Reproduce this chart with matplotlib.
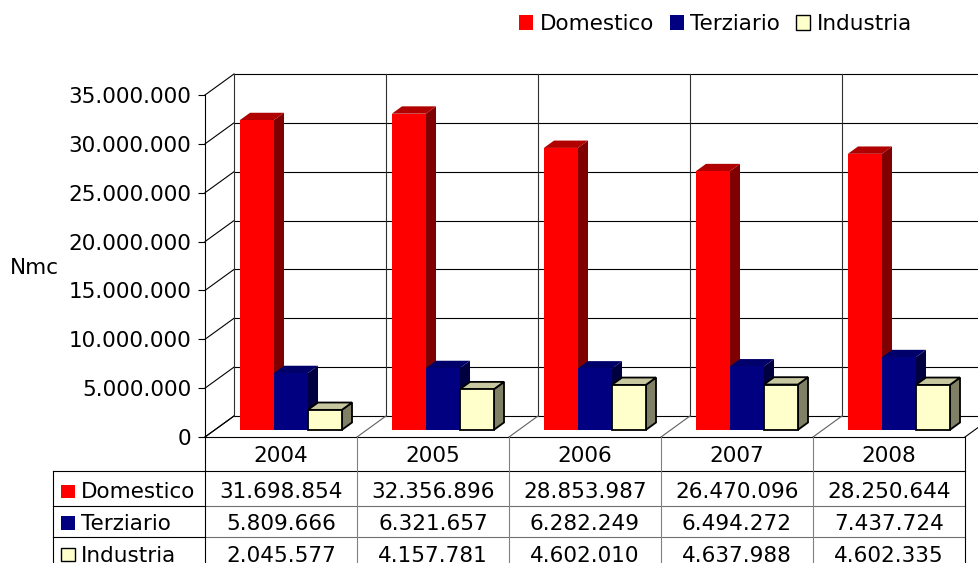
import numpy as np
import matplotlib
matplotlib.use('Agg')
import matplotlib.pyplot as plt
import matplotlib.transforms as mtransforms
from matplotlib.patches import Polygon, Rectangle, Patch
from matplotlib.lines import Line2D

# dati
years = ['2004', '2005', '2006', '2007', '2008']
series = ['Domestico', 'Terziario', 'Industria']
domestico = [31698854, 32356896, 28853987, 26470096, 28250644]
terziario = [5809666, 6321657, 6282249, 6494272, 7437724]
industria = [2045577, 4157781, 4602010, 4637988, 4602335]
values = [domestico, terziario, industria]
y_ticks = np.arange(0, 35000001, 5000000)
y_max = 35000000

front_colors = ['#ff0000', '#000080', '#ffffcc']
top_colors = ['#b00000', '#00006a', '#c8c8a0']
side_colors = ['#7f0000', '#000040', '#808066']
edge_colors = ['none', 'none', 'black']

FS = 15.5
W, H = 979, 563
plt.rcParams['font.family'] = ['DejaVu Sans']


def fmt(v):
    return f'{v:,.0f}'.replace(',', '.')


fig = plt.figure(figsize=(W / 100, H / 100), dpi=100)
ax = fig.add_axes([205 / W, 1 - 437 / H, 760 / W, 342 / H])
ax.set_xlim(0, len(years))
ax.set_ylim(0, y_max)
ax.patch.set_visible(False)
for s in ['top', 'right', 'bottom']:
    ax.spines[s].set_visible(False)
ax.spines['left'].set_linewidth(0.8)
ax.set_xticks([])
ax.set_yticks(y_ticks)
ax.set_yticklabels([fmt(v) for v in y_ticks], fontsize=FS)
ax.tick_params(axis='y', direction='out', length=5, width=0.8, pad=5)

# profondita 3D: converte pixel -> unita dati
p0 = ax.transData.transform((0, 0))
p1 = ax.transData.transform((1, 1e6))
kx = p1[0] - p0[0]
ky = (p1[1] - p0[1]) / 1e6
WALL = (29, 21)


def off(x, y, d):
    return x + d * WALL[0] / kx, y + d * WALL[1] / ky


def seg(a, b, color='black', lw=0.8, z=1):
    ax.add_line(Line2D([a[0], b[0]], [a[1], b[1]], color=color, lw=lw,
                       zorder=z, clip_on=False))


n = len(years)
# pareti
for v in y_ticks:
    seg(off(0, v, 1), off(n, v, 1))
    seg(off(0, v, 0), off(0, v, 1))
for i in range(n + 1):
    seg(off(i, 0, 1), off(i, y_max, 1), color='#303030')
    seg(off(i, 0, 0), off(i, 0, 1), color='black' if i in (0, n) else '#606060')
seg(off(0, 0, 0), off(n, 0, 0))

# barre
bar_w = 34 / 152
d0, d1 = 0.34, 0.69
for i in range(n):
    for j in range(len(series)):
        v = values[j][i]
        x0 = i + 0.5 + (j - 1.5) * bar_w
        x1 = x0 + bar_w
        front = [off(x0, 0, d0), off(x1, 0, d0), off(x1, v, d0), off(x0, v, d0)]
        side = [off(x1, 0, d0), off(x1, 0, d1), off(x1, v, d1), off(x1, v, d0)]
        top = [off(x0, v, d0), off(x1, v, d0), off(x1, v, d1), off(x0, v, d1)]
        for pts, col in [(side, side_colors[j]), (top, top_colors[j]), (front, front_colors[j])]:
            lw = 1.3 if edge_colors[j] != 'none' else 0
            ax.add_patch(Polygon(pts, closed=True, facecolor=col, edgecolor=edge_colors[j],
                                 lw=lw, zorder=3, clip_on=False, joinstyle='miter'))

# etichetta asse
fig.text(10 / W, 1 - 268 / H, 'Nmc', fontsize=FS, ha='left', va='center')

# legenda
handles = [Patch(facecolor=front_colors[j],
                 edgecolor='black' if edge_colors[j] != 'none' else front_colors[j],
                 lw=1 if edge_colors[j] != 'none' else 0) for j in range(3)]
fig.legend(handles, series, loc='upper left', bbox_to_anchor=(519 / W, 1 - 14 / H),
           ncol=3, frameon=False, fontsize=FS, handlelength=0.65, handleheight=0.65,
           handletextpad=0.3, columnspacing=0.75, borderpad=0, borderaxespad=0)

# tabella dati
pix = mtransforms.Affine2D().scale(1, -1).translate(0, H)
tb = mtransforms.blended_transform_factory(ax.transData, pix)


def tline(xs, ys, tr, color='black'):
    fig.add_artist(Line2D(xs, ys, transform=tr, color=color, lw=0.8, zorder=5))


row_lines = [471, 506, 537]
row_base = [498.5, 530, 561.5]
for y in row_lines:
    tline([53, 205], [y, y], pix)
    tline([0, n], [y, y], tb, color='black' if y == 471 else '#707070')
tline([53, 53], [471, H], pix)
for i in range(n + 1):
    tline([i, i], [437, H], tb, color='black' if i in (0, n) else '#808080')

for i, yr in enumerate(years):
    fig.text(i + 0.5, 461.5, yr, transform=tb, fontsize=FS, ha='center', va='baseline')
for j, name in enumerate(series):
    fig.add_artist(Rectangle((61, row_base[j] - 0.5), 14, -13.5, transform=pix,
                             facecolor=front_colors[j],
                             edgecolor='black' if edge_colors[j] != 'none' else 'none',
                             lw=1, zorder=6))
    fig.text(81, row_base[j], name, transform=pix, fontsize=FS, ha='left', va='baseline')
    for i in range(n):
        fig.text(i + 0.5, row_base[j], fmt(values[j][i]), transform=tb, fontsize=FS,
                 ha='center', va='baseline')

fig.savefig('out.png', dpi=100)
